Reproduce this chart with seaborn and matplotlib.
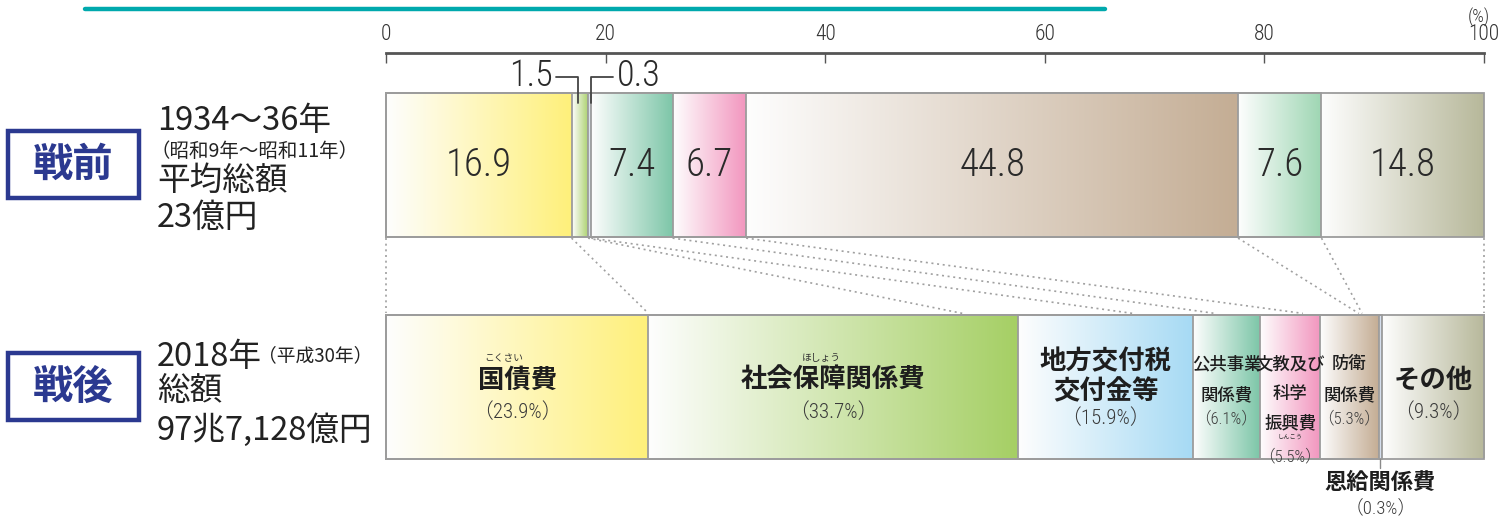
import numpy as np
import pandas as pd
import matplotlib
matplotlib.use("Agg")
import matplotlib.pyplot as plt
import seaborn as sns
from matplotlib import font_manager
from matplotlib.patches import Rectangle
from matplotlib.lines import Line2D
from matplotlib.colors import to_rgb

# ---------------- data ----------------
periods = ["戦前", "戦後"]
items = ["国債費", "社会保障関係費", "地方交付税交付金等", "公共事業関係費",
         "文教及び科学振興費", "防衛関係費", "恩給関係費", "その他"]
prewar = [16.9, 1.5, 0.3, 7.4, 6.7, 44.8, 7.6, 14.8]
postwar = [23.9, 33.7, 15.9, 6.1, 5.5, 5.3, 0.3, 9.3]
axis_ticks = [0, 20, 40, 60, 80, 100]
# where the dotted guide lines meet the lower bar
guide_top = [0, 16.9, 18.4, 18.7, 26.1, 32.8, 77.6, 85.2, 100]
guide_bottom = [0, 23.9, 52.5, 68.0, 75.5, 83.5, 88.6, 88.9, 100]
pre_texts = ["1934～36年", "（昭和9年～昭和11年）", "平均総額", "23億円"]
post_texts = ["2018年", "（平成30年）", "総額", "97兆7,128億円"]
post_names = [["国債費"], ["社会保障関係費"], ["地方交付税", "交付金等"],
              ["公共事業", "関係費"], ["文教及び", "科学", "振興費"],
              ["防衛", "関係費"], ["恩給関係費"], ["その他"]]

colors_pre = ["#FFF07A", "#A9D06A", "#9DB8D6", "#7DC6A8", "#F295BE",
              "#C4AD94", "#9ED6B3", "#B7B89A"]
colors_post = ["#FFF07A", "#A5CF64", "#A6DAF4", "#7DC6A8", "#F295BE",
               "#C4AD94", "#93ABD3", "#B7B89A"]

# ---------------- style ----------------
W, H = 1503, 520
sns.set_style("white")
avail = {f.name for f in font_manager.fontManager.ttflist}
NUMFONT = "DejaVu Sans"
NUMWEIGHT = "normal"
for cand, wt in [("Roboto Condensed", "light"), ("Liberation Sans Narrow", "normal"),
                 ("Roboto", "light"), ("Lato", "light")]:
    if cand in avail:
        NUMFONT, NUMWEIGHT = cand, wt
        break
JP = ["Noto Sans CJK JP", "DejaVu Sans"]
plt.rcParams["font.family"] = JP
NUM = dict(fontfamily=NUMFONT, fontweight=NUMWEIGHT)

fig = plt.figure(figsize=(W / 100, H / 100), dpi=100)
fig.patch.set_facecolor("white")

# axes: x 0..100 spans px 386..1484 ; row centres at px 165 and 386.5
ax_top_px, ax_bot_px = 53, 480
ax = fig.add_axes([386 / W, 1 - ax_bot_px / H, 1098 / W, (ax_bot_px - ax_top_px) / H])
pxrow = 221.5
def yd(py):
    return (py - 165) / pxrow
bh = 144 / pxrow

rows = []
for p, vals in zip(periods, [prewar, postwar]):
    cum = np.cumsum(vals)
    for it, c in zip(items, cum):
        rows.append({"period": p, "item": it, "cum": c})
df = pd.DataFrame(rows)

sns.barplot(data=df, x="cum", y="period", hue="item", order=periods,
            hue_order=items, dodge=False, orient="h", width=bh,
            errorbar=None, legend=False, ax=ax,
            palette=dict(zip(items, colors_post)),
            edgecolor="#9C9C9C", linewidth=1.3)
for p in ax.patches:
    p.set_facecolor("none")
    p.set_zorder(3)
    p.set_clip_on(False)

# gradient fills
def gradient(x0, x1, yc, color):
    c = np.array(to_rgb(color))
    t = np.linspace(0, 1, 256)[:, None]
    arr = (1 - t) * np.array([1.0, 1.0, 1.0]) * 0.995 + t * c
    ax.imshow(arr[None, :, :], extent=(x0, x1, yc + bh / 2, yc - bh / 2),
              aspect="auto", interpolation="bilinear", zorder=1)

for r, (vals, cols) in enumerate([(prewar, colors_pre), (postwar, colors_post)]):
    cum = np.cumsum(vals)
    starts = cum - np.array(vals)
    for s, e, col in zip(starts, cum, cols):
        gradient(s, e, r, col)

# dotted guide lines
for xt, xb in zip(guide_top, guide_bottom):
    ax.plot([xt, xb], [bh / 2 + 0.005, 1 - bh / 2 - 0.005], color="#A0A0A0",
            lw=1.2, ls=(0, (1.2, 2.2)), zorder=0.5, clip_on=False)

ax.set_xlim(0, 100)
ax.set_ylim(yd(ax_bot_px), yd(ax_top_px))
ax.set_xticks(axis_ticks)
ax.set_xticklabels([str(t) for t in axis_ticks], fontsize=15.5, color="#333333", **NUM)
ax.xaxis.set_ticks_position("top")
ax.tick_params(axis="x", direction="in", length=7, width=1, color="#555555",
               pad=6, top=True, bottom=False, labeltop=True, labelbottom=False)
ax.set_yticks([])
ax.set_xlabel("")
ax.set_ylabel("")
for side in ["left", "right", "bottom"]:
    ax.spines[side].set_visible(False)
ax.spines["top"].set_color("#555555")
ax.spines["top"].set_linewidth(2)
ax.patch.set_alpha(0)

# ------- top bar numbers -------
cum_pre = np.cumsum(prewar)
cen_pre = cum_pre - np.array(prewar) / 2
for v, c in zip(prewar, cen_pre):
    if v >= 5:
        ax.text(c, 0, f"{v:.1f}", ha="center", va="center", fontsize=28,
                color="#2A2A2A", zorder=5, **NUM)
# small segments with leaders
ld_y = yd(77)
c15, c03 = cen_pre[1], cen_pre[2]
ax.plot([c15 - 2.2, c15 - 0.15, c15 - 0.15], [ld_y, ld_y, yd(103)], color="#444444",
        lw=1.3, clip_on=False, zorder=6)
ax.plot([c03 + 0.1, c03 + 0.1, c03 + 2.1], [yd(103), ld_y, ld_y], color="#444444",
        lw=1.3, clip_on=False, zorder=6)
ax.text(c15 - 2.5, yd(76), f"{prewar[1]:.1f}", ha="right", va="center", fontsize=26,
        color="#2A2A2A", zorder=6, **NUM)
ax.text(c03 + 2.5, yd(76), f"{prewar[2]:.1f}", ha="left", va="center", fontsize=26,
        color="#2A2A2A", zorder=6, **NUM)

# ------- bottom bar labels -------
cum_post = np.cumsum(postwar)
cen_post = cum_post - np.array(postwar) / 2
# per item: line y (px), name size, weight, pct y, pct size
lab_style = [
    ([380], 19, "bold", 412, 15),
    ([380], 19, "bold", 412, 15),
    ([362, 392], 19, "bold", 418, 15),
    ([364, 395], 12.5, "medium", 419, 12),
    ([364, 394, 423], 12.5, "medium", 457, 12),
    ([364, 395], 12.5, "medium", 419, 12),
    ([482], 16, "bold", 508, 13.5),
    ([380], 19, "bold", 412, 15),
]
for v, c, names, (ys, fs, fw, py, pfs) in zip(postwar, cen_post, post_names, lab_style):
    for line, y in zip(names, ys):
        ax.text(c, yd(y), line, ha="center", va="center", fontsize=fs,
                fontweight=fw, color="#1E1E1E", zorder=6, clip_on=False)
    ax.text(c, yd(py), f"（{v:.1f}%）", ha="center", va="center", fontsize=pfs,
            color="#3A3A3A", zorder=6, clip_on=False,
            fontfamily=[NUMFONT, "Noto Sans CJK JP"], fontweight=NUMWEIGHT)
# ruby
ax.text(cen_post[0] - 1.2, yd(358), "こくさい", ha="center", va="center", fontsize=7, color="#333333", zorder=6)
ax.text(cen_post[1] - 1.1, yd(358), "ほしょう", ha="center", va="center", fontsize=7, color="#333333", zorder=6)
ax.text(cen_post[4], yd(437), "しんこう", ha="center", va="center", fontsize=4.5, color="#333333", zorder=6)
# leader for the 0.3% segment
ax.plot([cen_post[6], cen_post[6]], [1 + bh / 2, yd(468)], color="#8A8A8A", lw=1,
        clip_on=False, zorder=6)

# ------- figure-level texts -------
def ftxt(px, py, s, **kw):
    fig.text(px / W, 1 - py / H, s, **kw)

ftxt(1490, 17, "(%)", ha="right", va="center", fontsize=13, color="#333333", **NUM)

# title underline (title itself is cut off at the top of the picture)
fig.add_artist(Line2D([85 / W, 1105 / W], [1 - 9 / H, 1 - 9 / H], color="#00A9AD", lw=3.2))

navy = "#2B3990"
for (y0, y1), lab in zip([(131, 198), (353, 420)], periods):
    fig.add_artist(Rectangle((8 / W, 1 - y1 / H), (139 - 8) / W, (y1 - y0) / H,
                             transform=fig.transFigure, fill=False, edgecolor=navy, lw=3.2))
    ftxt(73, (y0 + y1) / 2 + 1, lab, ha="center", va="center", fontsize=29,
         fontweight="bold", color=navy)

ftxt(157, 121, pre_texts[0], ha="left", va="center", fontsize=23.5, color="#222222")
ftxt(150, 151, pre_texts[1], ha="left", va="center", fontsize=14, color="#222222")
ftxt(157, 181, pre_texts[2], ha="left", va="center", fontsize=23.5, color="#222222")
ftxt(157, 218, pre_texts[3], ha="left", va="center", fontsize=23.5, color="#222222")

ftxt(157, 357, post_texts[0], ha="left", va="center", fontsize=23.5, color="#222222")
ftxt(258, 356, post_texts[1], ha="left", va="center", fontsize=13.5, color="#222222")
ftxt(157, 391, post_texts[2], ha="left", va="center", fontsize=23.5, color="#222222")
ftxt(157, 430, post_texts[3], ha="left", va="center", fontsize=23.5, color="#222222")

fig.savefig("out.png", dpi=100, facecolor="white")
